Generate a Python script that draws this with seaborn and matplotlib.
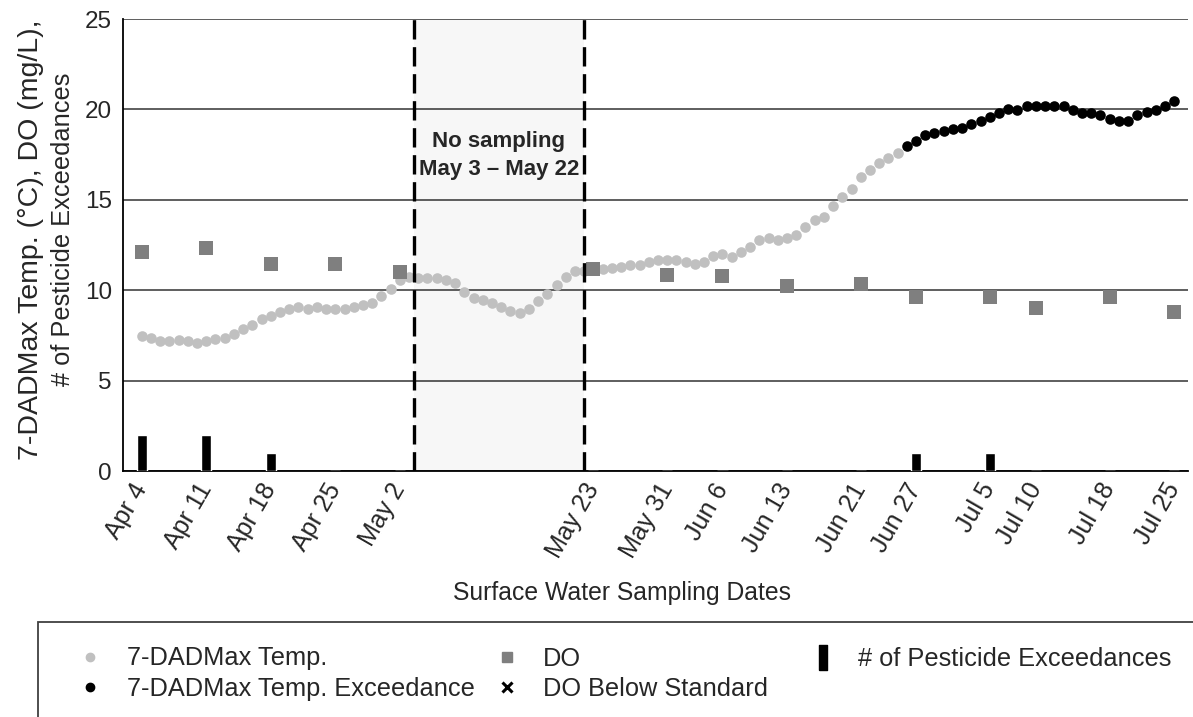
import numpy as np
import pandas as pd
import matplotlib
matplotlib.use("Agg")
import matplotlib.pyplot as plt
import seaborn as sns
from matplotlib.lines import Line2D
from matplotlib.patches import Rectangle

# ---------------- data ----------------
start_date = "2016-04-04"
# 7-day average daily max temperature (°C), Apr 4 - Jun 25 (below standard)
temp_values = [
    7.47, 7.37, 7.19, 7.19, 7.26, 7.19, 7.08, 7.19, 7.28, 7.37,
    7.58, 7.87, 8.08, 8.39, 8.57, 8.78, 8.98, 9.05, 8.96, 9.05,
    8.98, 8.96, 8.96, 9.09, 9.20, 9.31, 9.68, 10.07, 10.56, 10.75,
    10.69, 10.66, 10.66, 10.56, 10.38, 9.88, 9.59, 9.46, 9.27, 9.09,
    8.87, 8.76, 8.96, 9.38, 9.79, 10.29, 10.75, 11.08, 11.08, 11.12,
    11.15, 11.21, 11.30, 11.38, 11.38, 11.56, 11.67, 11.67, 11.67, 11.56,
    11.45, 11.56, 11.89, 11.98, 11.85, 12.09, 12.37, 12.78, 12.90, 12.78,
    12.90, 13.07, 13.48, 13.88, 14.07, 14.66, 15.17, 15.58, 16.28, 16.65,
    17.05, 17.30, 17.57,
]
# 7-DADMax exceedances, Jun 26 - Jul 25
temp_exceed_values = [
    17.98, 18.27, 18.58, 18.71, 18.79, 18.90, 18.99, 19.19, 19.38, 19.56,
    19.78, 20.00, 19.97, 20.19, 20.19, 20.19, 20.19, 20.19, 19.97, 19.78,
    19.78, 19.67, 19.45, 19.38, 19.38, 19.71, 19.86, 19.99, 20.19, 20.48,
]
sampling_labels = ["Apr 4", "Apr 11", "Apr 18", "Apr 25", "May 2", "May 23",
                   "May 31", "Jun 6", "Jun 13", "Jun 21", "Jun 27", "Jul 5",
                   "Jul 10", "Jul 18", "Jul 25"]
do_values = [12.1, 12.35, 11.45, 11.45, 11.0, 11.2, 10.85, 10.8, 10.25,
             10.35, 9.6, 9.6, 9.0, 9.6, 8.8]
pesticide_exceedances = [2, 2, 1, 0, 0, 0, 0, 0, 0, 0, 1, 1, 0, 0, 0]
no_sampling_start = "2016-05-03 12:00"
no_sampling_end = "2016-05-22 00:00"
annotation_text = "No sampling\nMay 3 \u2013 May 22"
ylabel_line1 = "7-DADMax Temp. (\u00b0C), DO (mg/L),"
ylabel_line2 = "# of Pesticide Exceedances"

# ---------------- frames ----------------
all_dates = pd.date_range(start_date, periods=len(temp_values) + len(temp_exceed_values), freq="D")
df_temp = pd.DataFrame({"date": all_dates[:len(temp_values)], "temp": temp_values})
df_exc = pd.DataFrame({"date": all_dates[len(temp_values):], "temp": temp_exceed_values})
sampling_dates = pd.to_datetime([lbl + " 2016" for lbl in sampling_labels], format="%b %d %Y")
df_samp = pd.DataFrame({"date": sampling_dates, "do": do_values, "pest": pesticide_exceedances})

# ---------------- style ----------------
sns.set_style("white")
plt.rcParams["font.family"] = ["Liberation Sans", "DejaVu Sans"]

W, H = 1193, 717
fig = plt.figure(figsize=(W / 100, H / 100), dpi=100)
ax = fig.add_axes([123 / W, 1 - 471 / H, (1188 - 123) / W, (471 - 19) / H])

t0 = pd.Timestamp(start_date)
ax.axvspan(pd.Timestamp(no_sampling_start), pd.Timestamp(no_sampling_end),
           color="#f7f7f7", zorder=0.2, lw=0)

ax.bar(df_samp["date"], df_samp["pest"], width=1.1, color="black", zorder=3)
sns.scatterplot(data=df_temp, x="date", y="temp", color="#c0c0c0", s=58,
                linewidth=0, ax=ax, zorder=3, legend=False)
sns.scatterplot(data=df_exc, x="date", y="temp", color="black", s=58,
                linewidth=0, ax=ax, zorder=3, legend=False)
sns.scatterplot(data=df_samp, x="date", y="do", color="#7f7f7f", marker="s", s=90,
                linewidth=0, ax=ax, zorder=4, legend=False)

for d in (no_sampling_start, no_sampling_end):
    ax.axvline(pd.Timestamp(d), color="black", lw=2.4, ls=(0, (5.8, 2.3)), zorder=5)

ax.text(pd.Timestamp("2016-05-12 18:00"), 17.45, annotation_text, ha="center", va="center",
        fontsize=16, fontweight="bold", linespacing=1.38, zorder=6)

ax.set_xlim(t0 - pd.Timedelta(days=2.03), t0 + pd.Timedelta(days=113.5))
ax.set_ylim(0, 25)
ax.set_yticks([0, 5, 10, 15, 20, 25])
ax.set_xticks(sampling_dates)
ax.set_xticklabels(sampling_labels, rotation=60, ha="right", va="center",
                   rotation_mode="anchor", fontsize=18)
ax.tick_params(axis="x", length=0, pad=10)
ax.tick_params(axis="y", length=0, pad=8, labelsize=17.5)
ax.set_xlabel("")
ax.set_ylabel("")

ax.set_axisbelow(True)
ax.yaxis.grid(True, color="#333333", lw=1.1)
ax.xaxis.grid(False)
for s in ("top", "right"):
    ax.spines[s].set_visible(False)
for s in ("left", "bottom"):
    ax.spines[s].set_color("black")
    ax.spines[s].set_linewidth(1.3)

fig.text(622 / W, 1 - 593 / H, "Surface Water Sampling Dates", ha="center", va="center",
         fontsize=17.8)
fig.text(31 / W, 1 - 240 / H, ylabel_line1, ha="center", va="center", rotation=90, fontsize=20.5)
fig.text(63 / W, 1 - 229 / H, ylabel_line2, ha="center", va="center", rotation=90, fontsize=18.3)

# ---------------- legend ----------------
fig.add_artist(Rectangle((38 / W, -0.1), 1.2, 0.1 + (717 - 622) / H, transform=fig.transFigure,
                         fill=False, edgecolor="#404040", lw=1.3))
bar_marker = [(-0.35, -1), (0.35, -1), (0.35, 1), (-0.35, 1), (-0.35, -1)]
h_temp = Line2D([], [], ls="none", marker="o", color="#c0c0c0", markersize=6)
h_exc = Line2D([], [], ls="none", marker="o", color="black", markersize=6)
h_do = Line2D([], [], ls="none", marker="s", color="#7f7f7f", markersize=7)
h_dobs = Line2D([], [], ls="none", marker="x", color="black", markersize=7, markeredgewidth=2.2)
h_pest = Line2D([], [], ls="none", marker=bar_marker, color="black", markersize=18)

leg_fs = 18.3
fs_px = leg_fs * 100 / 72
common = dict(frameon=False, fontsize=leg_fs, handlelength=1.0,
              borderpad=0, borderaxespad=0, labelspacing=0.26, loc="upper left")
for handles, labels, mx, tx in [([h_temp, h_exc], ["7-DADMax Temp.", "7-DADMax Temp. Exceedance"], 90, 127),
                                ([h_do, h_dobs], ["DO", "DO Below Standard"], 507, 543),
                                ([h_pest], ["# of Pesticide Exceedances"], 823, 858)]:
    left = mx - 0.5 * fs_px
    pad = (tx - mx) / fs_px - 0.5
    fig.legend(handles, labels, bbox_to_anchor=(left / W, 1 - 646.5 / H),
               handletextpad=pad, **common)

fig.savefig("out.png", dpi=100)
